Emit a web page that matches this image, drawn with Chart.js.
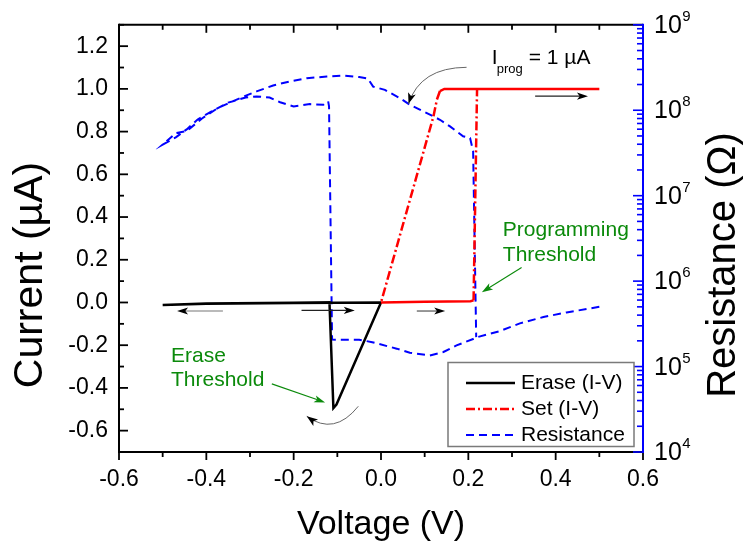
<!DOCTYPE html>
<html>
<head>
<meta charset="utf-8">
<script src="https://cdn.jsdelivr.net/npm/chart.js@4.4.1/dist/chart.umd.min.js"></script>
<style>
  html, body { margin: 0; padding: 0; background: #fff; }
  #wrap { width: 746px; height: 548px; }
</style>
</head>
<body>
<div id="wrap"><canvas id="chart"></canvas></div>
<script>
// Erase sweep: 0 -> -0.5 -> 0 V (current in uA)
const eraseV = [0, -0.2, -0.4, -0.5, -0.4, -0.2, -0.118, -0.109, -0.102, 0];
const eraseI = [0, -0.002, -0.006, -0.012, -0.005, -0.001, 0, -0.494, -0.478, 0];

// Set sweep: 0 -> 0.5 -> 0 V, compliance 1 uA
const setV = [0, 0.1, 0.205, 0.212, 0.22, 0.35, 0.5, 0.3, 0.145, 0.135, 0.128, 0.12, 0];
const setI = [0, 0.003, 0.006, 0.01, 1.0, 1.0, 1.0, 1.0, 1.0, 0.99, 0.95, 0.87, 0];

// Resistance (ohm) along the sweeps, right log axis
const resV = [0.5, 0.425, 0.372, 0.318, 0.272, 0.219, 0.211, 0.173, 0.143, 0.112, 0.082, 0.066, 0.036,
  -0.02, -0.05, -0.095, -0.112, -0.119, -0.121, -0.132, -0.163, -0.2, -0.231, -0.255, -0.285,
  -0.31, -0.35, -0.38, -0.42, -0.445, -0.47, -0.5,
  -0.47, -0.445, -0.41, -0.375, -0.34, -0.308, -0.285, -0.247, -0.209, -0.17, -0.124, -0.085,
  -0.05, -0.03, -0.018, 0.009, 0.044, 0.066, 0.105, 0.135, 0.158, 0.188, 0.204, 0.211, 0.218];
const resR = [5.0e5, 4.3e5, 3.8e5, 3.2e5, 2.6e5, 2.2e5, 2.1e5, 1.77e5, 1.48e5, 1.35e5, 1.41e5, 1.45e5, 1.62e5,
  1.93e5, 2.06e5, 2.06e5, 2.07e5, 1.11e8, 1.27e8, 1.16e8, 1.18e8, 1.11e8, 1.24e8, 1.41e8, 1.45e8,
  1.41e8, 1.23e8, 1.02e8, 7.8e7, 5.97e7, 4.82e7, 3.96e7,
  5.4e7, 5.7e7, 8.0e7, 1.05e8, 1.27e8, 1.49e8, 1.66e8, 1.95e8, 2.17e8, 2.37e8, 2.48e8, 2.55e8,
  2.45e8, 2.35e8, 1.89e8, 1.73e8, 1.38e8, 1.16e8, 9.25e7, 7.74e7, 6.47e7, 4.95e7, 4.73e7, 3.31e7, 2.21e5];

const xTickVals = [-0.6, -0.4, -0.2, 0, 0.2, 0.4, 0.6];
const xTickLabels = ['-0.6', '-0.4', '-0.2', '0.0', '0.2', '0.4', '0.6'];
const yTickVals = [-0.6, -0.4, -0.2, 0, 0.2, 0.4, 0.6, 0.8, 1.0, 1.2];
const yTickLabels = ['-0.6', '-0.4', '-0.2', '0.0', '0.2', '0.4', '0.6', '0.8', '1.0', '1.2'];
const rDecades = [4, 5, 6, 7, 8, 9];

const legendLabels = ['Erase (I-V)', 'Set (I-V)', 'Resistance'];

const fontFam = "'Liberation Sans', Arial, sans-serif";
const green = '#0b8a0b';
const setDash = [9, 3, 2, 3];
const resDash = [8, 5];

// annotation anchors in data units (V, uA)
const straightArrows = [
  { from: [-0.362, -0.04], to: [-0.467, -0.04], color: '#777' },
  { from: [-0.182, -0.037], to: [-0.060, -0.037], color: '#222' },
  { from: [0.082, -0.04], to: [0.147, -0.04], color: '#444' },
  { from: [0.353, 0.966], to: [0.474, 0.966], color: '#222' },
  { from: [-0.250, -0.381], to: [-0.128, -0.468], color: green, head: green },
  { from: [0.322, 0.164], to: [0.231, 0.048], color: green, head: green }
];
const curvedArrows = [
  { from: [0.196, 1.101], ctrl: [0.09, 1.10], to: [0.063, 0.930] },
  { from: [-0.052, -0.486], ctrl: [-0.107, -0.626], to: [-0.170, -0.533] }
];

const pick = (vals, labels, v) => {
  const i = vals.findIndex(t => Math.abs(t - v) < 1e-6);
  return i < 0 ? '' : labels[i];
};
const pts = (xs, ys) => xs.map((v, i) => ({ x: v, y: ys[i] }));

function seg(ctx, x0, y0, x1, y1) {
  ctx.beginPath(); ctx.moveTo(x0, y0); ctx.lineTo(x1, y1); ctx.stroke();
}

function head(ctx, x, y, ang, color, hl, hw) {
  const c = Math.cos(ang), s = Math.sin(ang);
  ctx.fillStyle = color;
  ctx.beginPath();
  ctx.moveTo(x, y);
  ctx.lineTo(x - hl * c + hw * s, y - hl * s - hw * c);
  ctx.lineTo(x - 0.75 * hl * c, y - 0.75 * hl * s);
  ctx.lineTo(x - hl * c - hw * s, y - hl * s + hw * c);
  ctx.closePath();
  ctx.fill();
}

const decor = {
  id: 'decor',
  afterDraw(chart) {
    const { ctx, chartArea: a, scales } = chart;
    const sx = scales.x, sy = scales.y, sr = scales.y1;
    const P = (p) => [sx.getPixelForValue(p[0]), sy.getPixelForValue(p[1])];
    ctx.save();

    // tick marks
    ctx.strokeStyle = '#000';
    ctx.lineWidth = 1.8;
    sx.ticks.forEach(t => {
      const px = sx.getPixelForValue(t.value);
      const len = t.label ? 8 : 5;
      seg(ctx, px, a.bottom, px, a.bottom + len);
      seg(ctx, px, a.top, px, a.top + len);
    });
    sy.ticks.forEach(t => {
      const py = sy.getPixelForValue(t.value);
      const len = t.label ? 9 : 5;
      seg(ctx, a.left, py, a.left + len, py);
    });

    // frame
    ctx.lineWidth = 2;
    seg(ctx, a.left, a.top, a.right, a.top);
    seg(ctx, a.left, a.top - 1, a.left, a.bottom + 1);
    seg(ctx, a.left - 1, a.bottom, a.right, a.bottom);

    // right log axis (blue)
    ctx.strokeStyle = '#0000ff';
    ctx.lineWidth = 2;
    seg(ctx, a.right, a.top - 1, a.right, a.bottom + 1);
    ctx.lineWidth = 1.6;
    rDecades.forEach(e => {
      for (let m = 1; m <= 9; m++) {
        const v = m * Math.pow(10, e);
        if (v > sr.max * 1.0001) break;
        const py = sr.getPixelForValue(v);
        seg(ctx, a.right, py, a.right - (m === 1 ? 10 : 6), py);
      }
    });
    ctx.fillStyle = '#000';
    ctx.textAlign = 'left';
    ctx.textBaseline = 'alphabetic';
    rDecades.forEach(e => {
      const py = sr.getPixelForValue(Math.pow(10, e));
      ctx.font = '25px ' + fontFam;
      ctx.fillText('10', a.right + 11, py + 8);
      const w = ctx.measureText('10').width;
      ctx.font = '15px ' + fontFam;
      ctx.fillText(String(e), a.right + 11 + w + 0.5, py - 4);
    });

    // vertical axis titles
    ctx.textAlign = 'center';
    ctx.textBaseline = 'middle';
    ctx.font = '41px ' + fontFam;
    ctx.save();
    ctx.translate(31, 275);
    ctx.rotate(-Math.PI / 2);
    ctx.fillText('Current (\u00b5A)', 0, 0);
    ctx.restore();
    ctx.font = '40px ' + fontFam;
    ctx.save();
    ctx.translate(724, 265);
    ctx.rotate(-Math.PI / 2);
    ctx.fillText('Resistance (\u03a9)', 0, 0);
    ctx.restore();

    // arrows
    straightArrows.forEach(ar => {
      const [x0, y0] = P(ar.from), [x1, y1] = P(ar.to);
      const ang = Math.atan2(y1 - y0, x1 - x0);
      ctx.strokeStyle = ar.color;
      ctx.lineWidth = 1.1;
      seg(ctx, x0, y0, x1 - 8 * Math.cos(ang), y1 - 8 * Math.sin(ang));
      head(ctx, x1, y1, ang, ar.head || '#000', 11, 3.6);
    });
    curvedArrows.forEach(ar => {
      const [x0, y0] = P(ar.from), [cx, cy] = P(ar.ctrl), [x1, y1] = P(ar.to);
      ctx.strokeStyle = '#666';
      ctx.lineWidth = 1;
      ctx.beginPath();
      ctx.moveTo(x0, y0);
      ctx.quadraticCurveTo(cx, cy, x1, y1);
      ctx.stroke();
      head(ctx, x1, y1, Math.atan2(y1 - cy, x1 - cx), '#000', 11, 4);
    });

    // text labels
    ctx.textAlign = 'left';
    ctx.textBaseline = 'alphabetic';
    ctx.fillStyle = '#000';
    let [tx, ty] = P([0.2535, 1.116]);
    ctx.font = '21px ' + fontFam;
    ctx.fillText('I', tx, ty);
    ctx.font = '13px ' + fontFam;
    ctx.fillText('prog', tx + 5, ty + 8.5);
    ctx.font = '21px ' + fontFam;
    ctx.fillText('= 1 \u00b5A', tx + 37, ty);

    ctx.fillStyle = green;
    ctx.font = '21px ' + fontFam;
    [tx, ty] = P([0.279, 0.311]);
    ctx.fillText('Programming', tx, ty);
    [tx, ty] = P([0.279, 0.195]);
    ctx.fillText('Threshold', tx, ty);
    [tx, ty] = P([-0.481, -0.277]);
    ctx.fillText('Erase', tx, ty);
    [tx, ty] = P([-0.481, -0.393]);
    ctx.fillText('Threshold', tx, ty);

    // legend
    const lx = a.right - 195, ly = a.bottom - 89.5;
    ctx.fillStyle = '#fff';
    ctx.fillRect(lx, ly, 186, 84);
    ctx.strokeStyle = '#7a7a7a';
    ctx.lineWidth = 1.5;
    ctx.strokeRect(lx, ly, 186, 84);
    const styles = [
      { color: '#000', dash: [], w: 2.5 },
      { color: '#ff0000', dash: setDash, w: 2.5 },
      { color: '#0000ff', dash: resDash, w: 2 }
    ];
    legendLabels.forEach((lab, i) => {
      const yy = ly + 20.5 + i * 26;
      ctx.strokeStyle = styles[i].color;
      ctx.lineWidth = styles[i].w;
      ctx.setLineDash(styles[i].dash);
      seg(ctx, lx + 18, yy, lx + 67, yy);
      ctx.setLineDash([]);
      ctx.fillStyle = '#000';
      ctx.font = '21px ' + fontFam;
      ctx.textBaseline = 'middle';
      ctx.fillText(lab, lx + 73, yy);
    });

    ctx.restore();
  }
};

new Chart(document.getElementById('chart'), {
  type: 'scatter',
  data: {
    datasets: [
      {
        label: legendLabels[0],
        data: pts(eraseV, eraseI),
        showLine: true,
        borderColor: '#000',
        borderWidth: 2.5,
        pointRadius: 0,
        yAxisID: 'y',
        order: 1
      },
      {
        label: legendLabels[1],
        data: pts(setV, setI),
        showLine: true,
        borderColor: '#ff0000',
        borderWidth: 2.5,
        borderDash: setDash,
        pointRadius: 0,
        yAxisID: 'y',
        order: 0,
        segment: {
          borderDash: c => Math.abs(c.p1.parsed.y - c.p0.parsed.y) < 0.02 ? [] : setDash
        }
      },
      {
        label: legendLabels[2],
        data: pts(resV, resR),
        showLine: true,
        borderColor: '#0000ff',
        borderWidth: 2,
        borderDash: resDash,
        pointRadius: 0,
        yAxisID: 'y1',
        order: 2
      }
    ]
  },
  options: {
    responsive: true,
    maintainAspectRatio: false,
    animation: false,
    events: [],
    layout: { padding: { top: 23, left: 0, right: 0, bottom: 0 } },
    plugins: { legend: { display: false }, tooltip: { enabled: false } },
    scales: {
      x: {
        type: 'linear',
        position: 'bottom',
        min: -0.6,
        max: 0.6,
        border: { display: false },
        grid: { drawOnChartArea: false, drawTicks: false },
        ticks: {
          stepSize: 0.1,
          autoSkip: false,
          maxRotation: 0,
          padding: 14,
          color: '#000',
          font: { family: fontFam, size: 23 },
          callback: v => pick(xTickVals, xTickLabels, v)
        },
        title: {
          display: true,
          text: 'Voltage (V)',
          color: '#000',
          font: { family: fontFam, size: 34 },
          padding: { top: 0, bottom: 3 }
        },
        afterFit: s => { s.height = 96; }
      },
      y: {
        type: 'linear',
        position: 'left',
        min: -0.7,
        max: 1.3,
        border: { display: false },
        grid: { drawOnChartArea: false, drawTicks: false },
        ticks: {
          stepSize: 0.1,
          autoSkip: false,
          padding: 11,
          color: '#000',
          font: { family: fontFam, size: 23 },
          callback: v => pick(yTickVals, yTickLabels, v)
        },
        afterFit: s => { s.width = 119; }
      },
      y1: {
        type: 'logarithmic',
        position: 'right',
        min: 1e4,
        max: 1e9,
        border: { display: false },
        grid: { display: false },
        ticks: { display: false },
        afterFit: s => { s.width = 103; }
      }
    }
  },
  plugins: [decor]
});
</script>
</body>
</html>
